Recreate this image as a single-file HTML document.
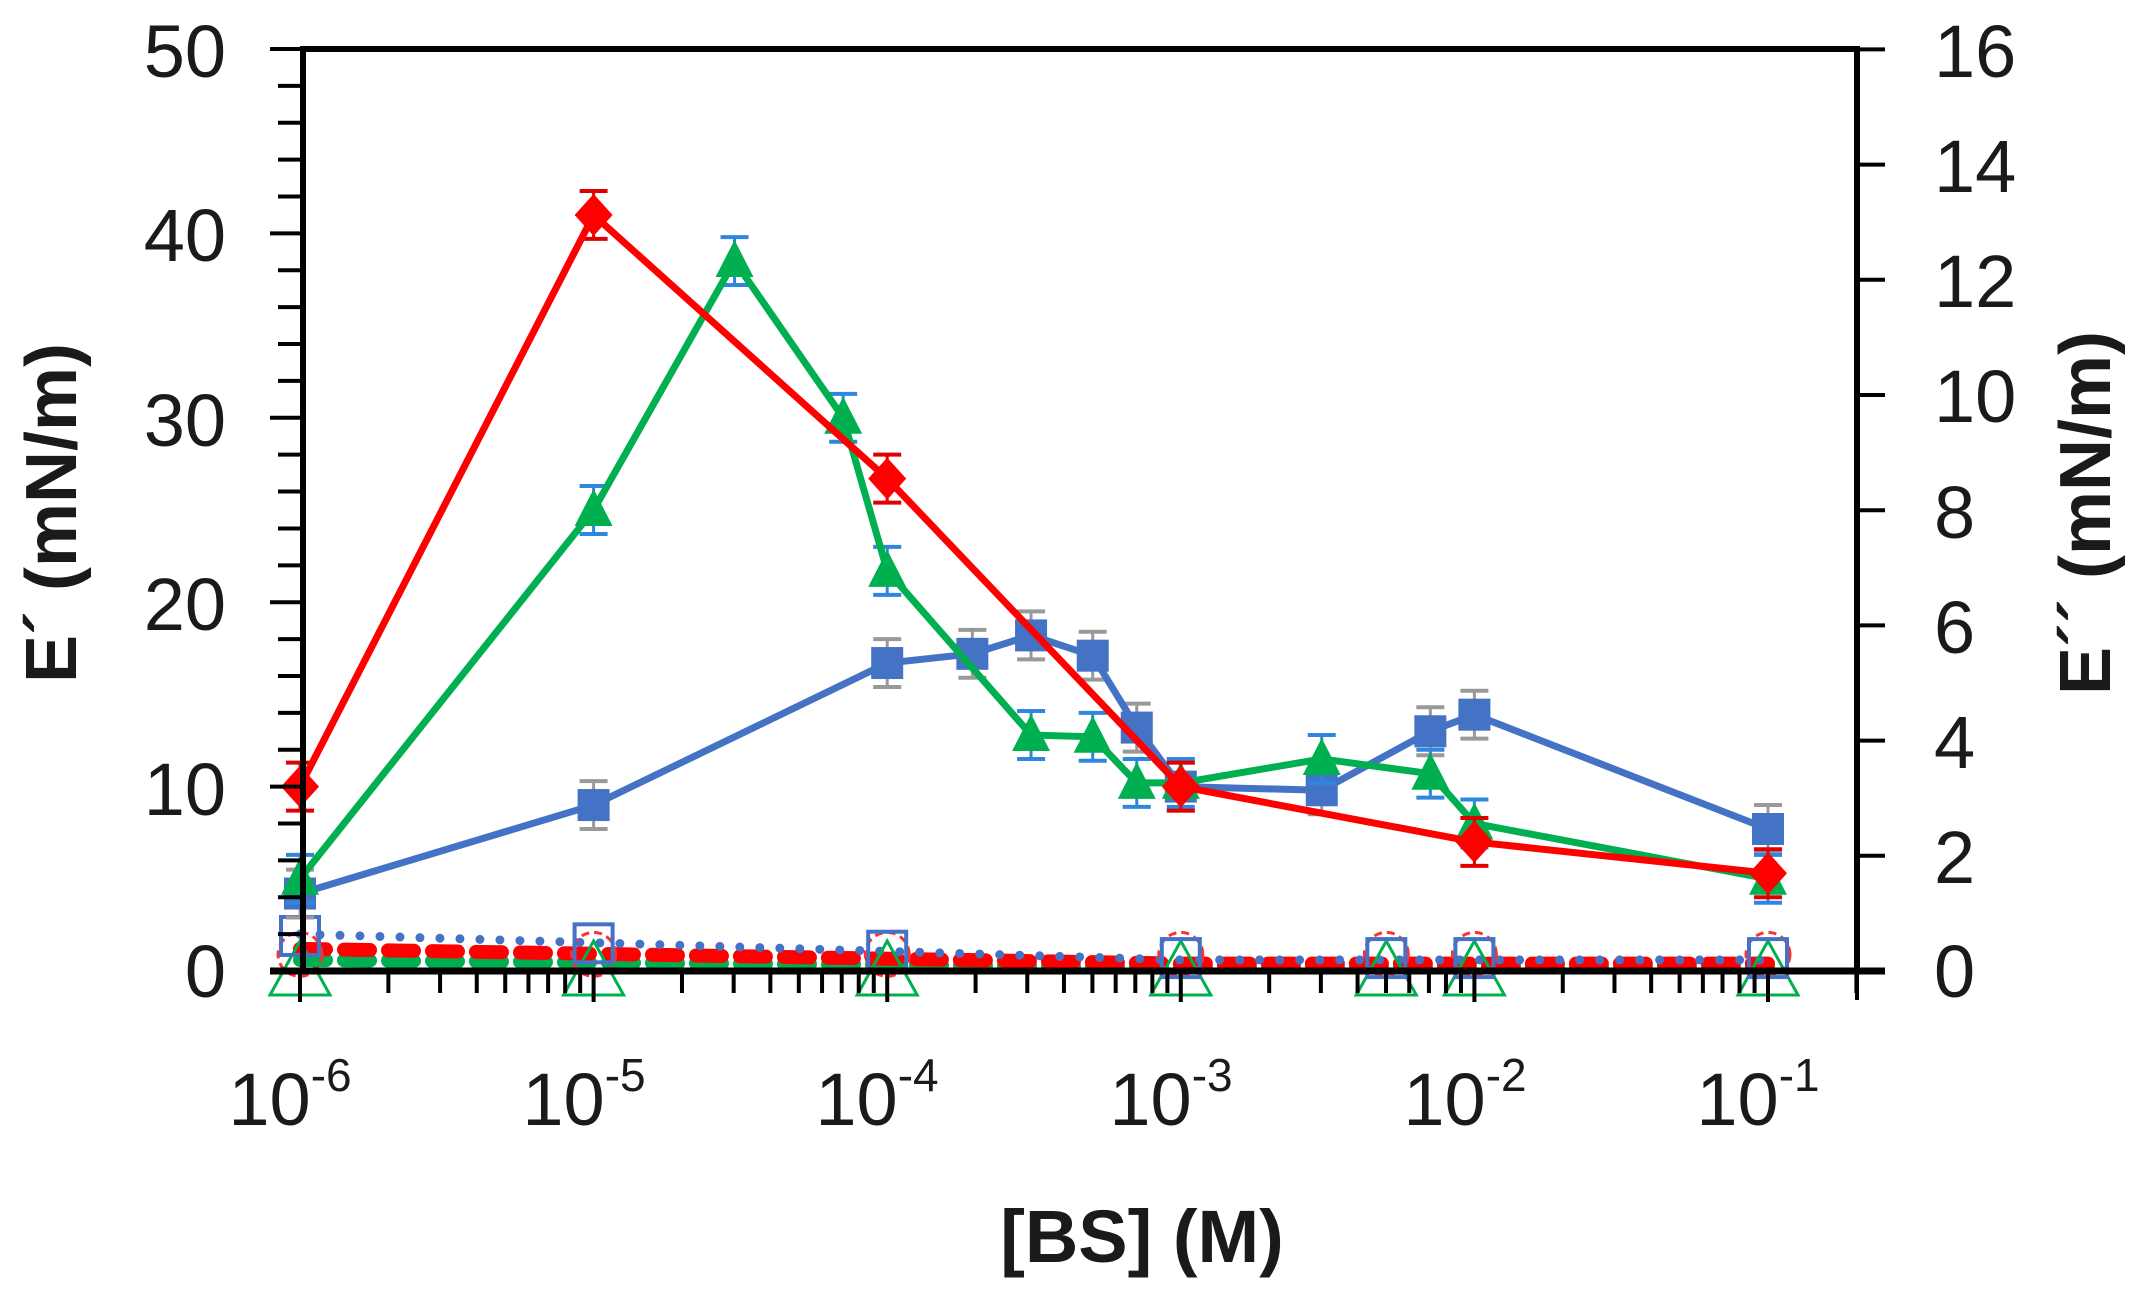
<!DOCTYPE html>
<html><head><meta charset="utf-8"><style>
html,body{margin:0;padding:0;background:#fff;}
svg{display:block;}
text{font-family:"Liberation Sans",sans-serif;fill:#1a1a1a;}
</style></head><body>
<svg id="s" width="2145" height="1315" viewBox="0 0 2145 1315" xmlns="http://www.w3.org/2000/svg">
<rect width="2145" height="1315" fill="#fff"/>
<g id="plot"></g>
<g id="axes" stroke="#000" fill="none">
<line x1="303" y1="49" x2="1857" y2="49" stroke-width="6"/>
<line x1="303" y1="46" x2="303" y2="974" stroke-width="6"/>
<line x1="1857" y1="46" x2="1857" y2="974" stroke-width="6"/>
<line x1="270" y1="971" x2="1885" y2="971" stroke-width="7"/>
</g>
<g font-size="74" text-anchor="end">
<text x="226" y="77">50</text>
<text x="226" y="261">40</text>
<text x="226" y="446">30</text>
<text x="226" y="630">20</text>
<text x="226" y="815">10</text>
<text x="226" y="997">0</text>
</g>
<g font-size="74" text-anchor="start">
<text x="1934" y="77">16</text>
<text x="1934" y="192">14</text>
<text x="1934" y="307">12</text>
<text x="1934" y="422">10</text>
<text x="1934" y="538">8</text>
<text x="1934" y="653">6</text>
<text x="1934" y="768">4</text>
<text x="1934" y="883">2</text>
<text x="1934" y="997">0</text>
</g>
<g font-size="74" text-anchor="middle">
<text x="290" y="1125">10<tspan font-size="46" dy="-34">-6</tspan></text>
<text x="584" y="1125">10<tspan font-size="46" dy="-34">-5</tspan></text>
<text x="877" y="1125">10<tspan font-size="46" dy="-34">-4</tspan></text>
<text x="1171" y="1125">10<tspan font-size="46" dy="-34">-3</tspan></text>
<text x="1465" y="1125">10<tspan font-size="46" dy="-34">-2</tspan></text>
<text x="1758" y="1125">10<tspan font-size="46" dy="-34">-1</tspan></text>
</g>
<text x="1142" y="1262" font-size="74" font-weight="bold" text-anchor="middle">[BS] (M)</text>
<text transform="translate(76,513) rotate(-90)" font-size="72" font-weight="bold" text-anchor="middle">E´ (mN/m)</text>
<text transform="translate(2110,513) rotate(-90)" font-size="72" font-weight="bold" text-anchor="middle">E´´ (mN/m)</text>
</svg>
<script>
var NS="http://www.w3.org/2000/svg";
var plot=document.getElementById('plot'),axes=document.getElementById('axes');
function el(t,a,p){var e=document.createElementNS(NS,t);for(var k in a)e.setAttribute(k,a[k]);(p||plot).appendChild(e);return e;}
function X(l){return 300+(l+6)*293.6;}
function Y(v){return 971-18.44*v;}
for(var v=0;v<=50;v+=2){var y=Y(v);el('line',{x1:(v%10==0?270:278),y1:y,x2:303,y2:y,'stroke-width':4},axes);}
for(var v=0;v<=16;v+=2){var y=971-v*57.6;el('line',{x1:1857,y1:y,x2:1885,y2:y,'stroke-width':4},axes);}
for(var d=-6;d<=-1;d++){for(var m=1;m<=9;m++){var l=d+Math.log10(m);var x=X(l);if(x>1857)break;el('line',{x1:x,y1:971,x2:x,y2:(m==1?1002:993),'stroke-width':4},axes);}}
el('line',{x1:1857,y1:971,x2:1857,y2:1000,'stroke-width':4},axes);
var lx=[-6,-5,-4,-3,-2.3,-2,-1];
function lowline(c,v0,v1,w,dash){var pts=[];for(var l=-6;l<=-1.0001+0.0001;l+=0.05){var v=v0+(v1-v0)*Math.min(1,(l+6)/3);pts.push(X(l)+','+Y(v));}
el('polyline',{points:pts.join(' '),fill:'none',stroke:c,'stroke-width':w,'stroke-dasharray':dash,'stroke-linecap':'round'});}
lowline('#00b050',0.6,0.2,14,'26 18');
lowline('#ff0000',1.2,0.4,14,'26 18');
lowline('#4472c4',2.0,0.6,9,'0 20');
lx.forEach(function(l,i){var x=X(l);
el('polygon',{points:(x-30)+','+(Y(0)+24)+' '+x+','+(Y(0)-30)+' '+(x+30)+','+(Y(0)+24),fill:'none',stroke:'#00b050','stroke-width':3});
el('circle',{cx:x,cy:Y(0.9),r:22,fill:'none',stroke:'#ff3030','stroke-width':3,'stroke-dasharray':'8 5'});
var by=Y(i<3?1.9-0.4*i:0.7);el('rect',{x:x-19,y:by-19,width:38,height:38,fill:'none',stroke:'#4472c4','stroke-width':4});
});
var blue=[[-6,4.2],[-5,9],[-4,16.7],[-3.71,17.2],[-3.51,18.2],[-3.30,17.1],[-3.15,13.2],[-3,10],[-2.52,9.8],[-2.15,13],[-2,13.9],[-1,7.7]];
var green=[[-6,5],[-5,25],[-4.52,38.5],[-4.15,30],[-4,21.7],[-3.51,12.8],[-3.30,12.7],[-3.15,10.2],[-3,10.2],[-2.52,11.5],[-2.15,10.7],[-2,8],[-1,5]];
var red=[[-6,10],[-5,41],[-4,26.7],[-3,10],[-2,7],[-1,5.3]];
function series(d,c,ec,mk){
d.forEach(function(p){var x=X(p[0]);el('line',{x1:x,y1:Y(p[1]+1.3),x2:x,y2:Y(p[1]-1.3),stroke:ec,'stroke-width':3});
[1.3,-1.3].forEach(function(o){el('line',{x1:x-14,y1:Y(p[1]+o),x2:x+14,y2:Y(p[1]+o),stroke:ec,'stroke-width':4});});});
el('polyline',{points:d.map(function(p){return X(p[0])+','+Y(p[1]);}).join(' '),fill:'none',stroke:c,'stroke-width':7,'stroke-linejoin':'round'});
d.forEach(function(p){var x=X(p[0]),y=Y(p[1]);
if(mk=='s')el('rect',{x:x-16,y:y-16,width:32,height:32,fill:c});
else if(mk=='t')el('polygon',{points:(x-19)+','+(y+16)+' '+x+','+(y-21)+' '+(x+19)+','+(y+16),fill:c});
else el('polygon',{points:x+','+(y-21)+' '+(x+19)+','+y+' '+x+','+(y+21)+' '+(x-19)+','+y,fill:c});});}
series(blue,'#4472c4','#999','s');
series(green,'#00b050','#2e86de','t');
series(red,'#ff0000','#e00000','d');
</script>
</body></html>
